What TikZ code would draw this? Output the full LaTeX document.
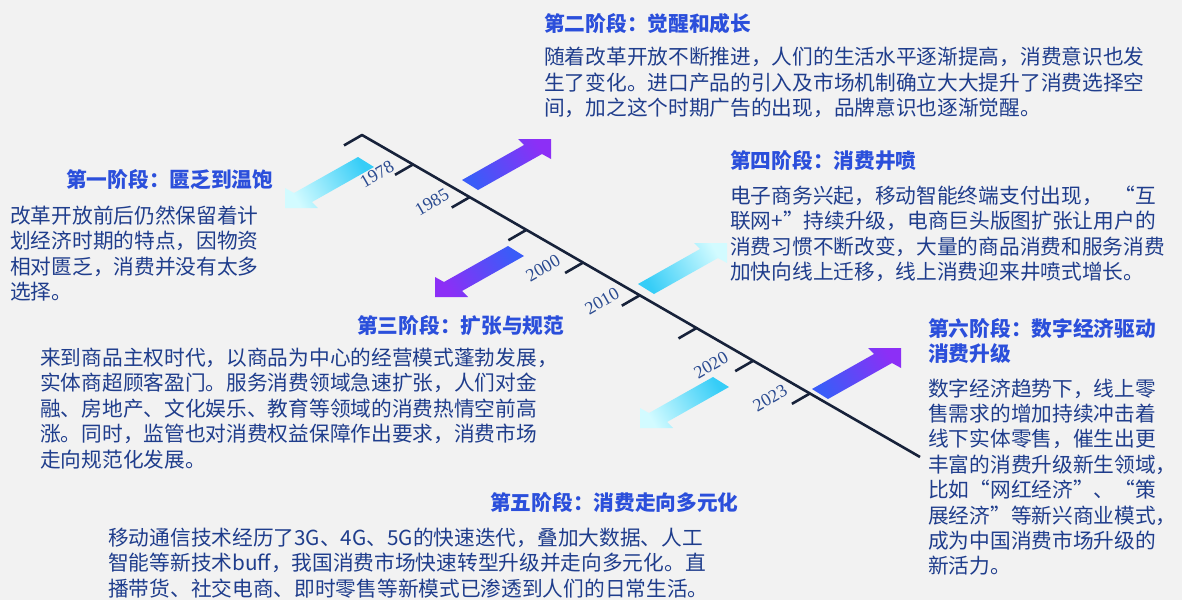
\documentclass[tikz,border=0pt]{standalone}
\usepackage{fontspec}
\usetikzlibrary{calc}
\setmainfont{Noto Sans CJK SC}
\newfontfamily\yearfont{Liberation Serif}
\definecolor{bg}{HTML}{F2F2F2}
\definecolor{titlec}{HTML}{2B4FDB}
\definecolor{bodyc}{HTML}{1F3D8C}
\definecolor{yearc}{HTML}{2A4A90}
\definecolor{linec}{HTML}{17223A}
\definecolor{cyanA}{HTML}{36CDF7}
\definecolor{cyanB}{HTML}{D2FBFF}
\definecolor{purA}{HTML}{3A5CF8}
\definecolor{purB}{HTML}{8C2FF6}
\newcommand\ArrUR[3]{% tip, tail colour, tip colour
  \shade[shift={#1}, bottom color=#2, top color=#3, shading angle=-60]
    (0,0) -- (-33,0) -- (-27,-6) -- (-89,-41) -- (-73,-51) -- (-9,-15) -- (0,-20) -- cycle;}
\newcommand\ArrDL[3]{%
  \shade[shift={#1}, bottom color=#2, top color=#3, shading angle=120]
    (0,0) -- (33,0) -- (27,6) -- (89,41) -- (73,51) -- (9,15) -- (0,20) -- cycle;}
\begin{document}
\begin{tikzpicture}[x=1pt,y=1pt,
  timeline/.style={draw=linec, line width=2.6pt},
  tickline/.style={draw=linec, line width=2.6pt},
  titlebox/.style={anchor=base west, inner sep=0pt, font=\fontsize{20.7}{25}\selectfont\bfseries, text=titlec},
  bodybox/.style={anchor=base west, inner sep=0pt, font=\fontsize{20.7}{25}\selectfont, text=bodyc},
  yearbox/.style={inner sep=0pt, rotate=30, font=\fontsize{18}{20}\selectfont\yearfont, text=yearc}]
\fill[bg] (0,0) rectangle (1182,-600);
\useasboundingbox (0,0) rectangle (1182,-600);

% arrows
\ArrDL{(285,-208)}{cyanA}{cyanB}
\ArrUR{(551,-139)}{purA}{purB}
\ArrDL{(435,-297)}{purA}{purB}
\ArrUR{(727,-243)}{cyanA}{cyanB}
\ArrDL{(640,-428)}{cyanA}{cyanB}
\ArrUR{(901,-348)}{purA}{purB}

% timeline
\coordinate (S) at (362,-135);
\coordinate (E) at (920,-457);
\draw[timeline, line join=round] ($(S)+(-18,-10.4)$) coordinate (S0) -- (S) -- (E);
\foreach \k in {0,...,7}{
  \pgfmathsetmacro\pp{(51+56.7*\k)/558}
  \path (S) -- (E) coordinate[pos=\pp] (tk\k);
  \draw[tickline] (tk\k) -- ++(-18,-10.4);
}

% years
\node[yearbox] (y1978) at (377,-174) {1978};
\node[yearbox] (y1985) at (432,-202) {1985};
\node[yearbox] (y2000) at (543,-268) {2000};
\node[yearbox] (y2010) at (602,-301) {2010};
\node[yearbox] (y2020) at (711,-365) {2020};
\node[yearbox] (y2023) at (770,-398) {2023};

% block 1
\node[titlebox] (t1) at (66,-187) {第一阶段：匮乏到温饱};
\foreach \t [count=\i, evaluate=\i as \yy using -(223+(\i-1)*25.5)] in
  {{改革开放前后仍然保留着计},{划经济时期的特点，因物资},{相对匮乏，消费并没有太多},{选择。}}
  {\node[bodybox] (b1-\i) at (10,\yy) {\t};}

% block 2
\node[titlebox] (t2) at (544,-31) {第二阶段：觉醒和成长};
\foreach \t [count=\i, evaluate=\i as \yy using -(64.5+(\i-1)*25.5)] in
  {{随着改革开放不断推进，人们的生活水平逐渐提高，消费意识也发},{生了变化。进口产品的引入及市场机制确立大大提升了消费选择空},{间，加之这个时期广告的出现，品牌意识也逐渐觉醒。}}
  {\node[bodybox] (b2-\i) at (544,\yy) {\t};}

% block 3
\node[titlebox] (t3) at (357,-333) {第三阶段：扩张与规范};
\foreach \t [count=\i, evaluate=\i as \yy using -(365+(\i-1)*25.5)] in
  {{来到商品主权时代，以商品为中心的经营模式蓬勃发展，},{实体商超顾客盈门。服务消费领域急速扩张，人们对金},{融、房地产、文化娱乐、教育等领域的消费热情空前高},{涨。同时，监管也对消费权益保障作出要求，消费市场},{走向规范化发展。}}
  {\node[bodybox] (b3-\i) at (40,\yy) {\t};}

% block 4
\node[titlebox] (t4) at (730,-168) {第四阶段：消费井喷};
\foreach \t [count=\i, evaluate=\i as \yy using -(203+(\i-1)*25.6)] in
  {{电子商务兴起，移动智能终端支付出现，\hspace{12pt}“互},{联网+”持续升级，电商巨头版图扩张让用户的},{消费习惯不断改变，大量的商品消费和服务消费},{加快向线上迁移，线上消费迎来井喷式增长。}}
  {\node[bodybox] (b4-\i) at (730,\yy) {\t};}

% block 5
\node[titlebox] (t5) at (490,-510) {第五阶段：消费走向多元化};
\foreach \t [count=\i, evaluate=\i as \yy using -(545+(\i-1)*25.5)] in
  {{移动通信技术经历了3G、4G、5G的快速迭代，叠加大数据、人工},{智能等新技术buff，我国消费市场快速转型升级并走向多元化。直},{播带货、社交电商、即时零售等新模式已渗透到人们的日常生活。}}
  {\node[bodybox] (b5-\i) at (108,\yy) {\t};}

% block 6
\node[titlebox] (t6a) at (928,-336) {第六阶段：数字经济驱动};
\node[titlebox] (t6b) at (928,-361.5) {消费升级};
\foreach \t [count=\i, evaluate=\i as \yy using -(396+(\i-1)*25.4)] in
  {{数字经济趋势下，线上零},{售需求的增加持续冲击着},{线下实体零售，催生出更},{丰富的消费升级新生领域，},{比如“网红经济”、“策},{展经济”等新兴商业模式，},{成为中国消费市场升级的},{新活力。}}
  {\node[bodybox] (b6-\i) at (928,\yy) {\t};}
\end{tikzpicture}
\end{document}
